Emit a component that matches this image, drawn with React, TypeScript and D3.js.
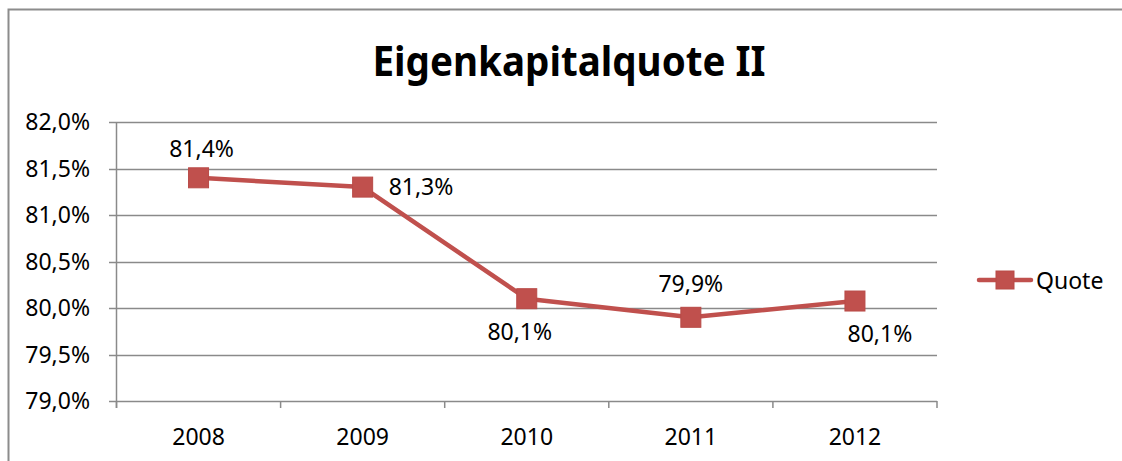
import React from "react";
import * as d3 from "d3";

const title = "Eigenkapitalquote II";
const categories = ["2008", "2009", "2010", "2011", "2012"];
const quoteValues = [81.4, 81.3, 80.1, 79.9, 80.075];
const quoteLabels = ["81,4%", "81,3%", "80,1%", "79,9%", "80,1%"];
const labelPlacement = ["above", "right", "below", "aboveHigh", "belowRight"];
const yTicks = [79.0, 79.5, 80.0, 80.5, 81.0, 81.5, 82.0];
const seriesName = "Quote";

const W = 1122;
const H = 461;
const FONT = "'Noto Sans', 'Open Sans', sans-serif";
const RED = "#C0504D";
const GRID = "#8a8a8a";
const FS = 23;

export default function App() {
  const x = d3.scaleBand<string>().domain(categories).range([116.5, 937]).padding(0);
  const y = d3.scaleLinear().domain([79, 82]).range([401, 122]);
  const cx = (c: string) => (x(c) as number) + x.bandwidth() / 2;

  const line = d3
    .line<number>()
    .x((_, i) => cx(categories[i]))
    .y((v) => y(v));

  const fmt = (v: number) => v.toFixed(1).replace(".", ",") + "%";

  const boundaries = categories.map((c) => x(c) as number).concat([x.range()[1]]);

  const labelPos = (p: string, px: number, py: number) => {
    if (p === "above") return { x: px + 3, y: py - 21, anchor: "middle" };
    if (p === "aboveHigh") return { x: px, y: py - 25, anchor: "middle" };
    if (p === "right") return { x: px + 26, y: py + 8, anchor: "start" };
    if (p === "below") return { x: px - 7, y: py + 41, anchor: "middle" };
    return { x: px + 25, y: py + 41, anchor: "middle" };
  };

  return (
    <svg
      width={W}
      height={H}
      style={{ position: "absolute", left: 0, top: 0, background: "#fff" }}
      fontFamily={FONT}
    >
      <rect x={0} y={0} width={W} height={H} fill="#fff" />
      {/* frame */}
      <path d={`M8.5,${H} V9.5 H${W}`} fill="none" stroke="#8c8c8c" strokeWidth={2} />

      {/* title */}
      <text
        x={569}
        y={76}
        textAnchor="middle"
        fontSize={41}
        fontWeight="bold"
        fill="#000"
        textLength={393}
        lengthAdjust="spacingAndGlyphs"
      >
        {title}
      </text>

      {/* gridlines & y ticks */}
      {yTicks.map((t) => (
        <g key={t}>
          <line x1={109} x2={937} y1={Math.round(y(t)) + 0.5} y2={Math.round(y(t)) + 0.5} stroke={GRID} strokeWidth={1.5} />
          <text x={90} y={y(t) + 8} textAnchor="end" fontSize={FS} fill="#000">
            {fmt(t)}
          </text>
        </g>
      ))}

      {/* y axis line */}
      <line x1={116.5} x2={116.5} y1={122} y2={408} stroke={GRID} strokeWidth={1.5} />

      {/* x ticks */}
      {boundaries.map((b, i) => (
        <line key={i} x1={b} x2={b} y1={401} y2={408} stroke={GRID} strokeWidth={1.5} />
      ))}
      {categories.map((c) => (
        <text key={c} x={cx(c)} y={445} textAnchor="middle" fontSize={FS} fill="#000">
          {c}
        </text>
      ))}

      {/* series */}
      <path d={line(quoteValues) as string} fill="none" stroke={RED} strokeWidth={4.5} strokeLinejoin="round" />
      {quoteValues.map((v, i) => (
        <rect
          key={i}
          x={cx(categories[i]) - 10}
          y={y(v) - 10}
          width={20}
          height={20}
          fill={RED}
          stroke="#B84A47"
          strokeWidth={1}
        />
      ))}
      {quoteValues.map((v, i) => {
        const p = labelPos(labelPlacement[i], cx(categories[i]), y(v));
        return (
          <text key={i} x={p.x} y={p.y} textAnchor={p.anchor as any} fontSize={FS} fill="#000">
            {quoteLabels[i]}
          </text>
        );
      })}

      {/* legend */}
      <line x1={979} x2={1031} y1={280} y2={280} stroke={RED} strokeWidth={4.5} strokeLinecap="round" />
      <rect x={996} y={271} width={18} height={18} fill={RED} stroke="#B84A47" strokeWidth={1} />
      <text x={1036} y={289} fontSize={FS} fill="#000">
        {seriesName}
      </text>
    </svg>
  );
}
